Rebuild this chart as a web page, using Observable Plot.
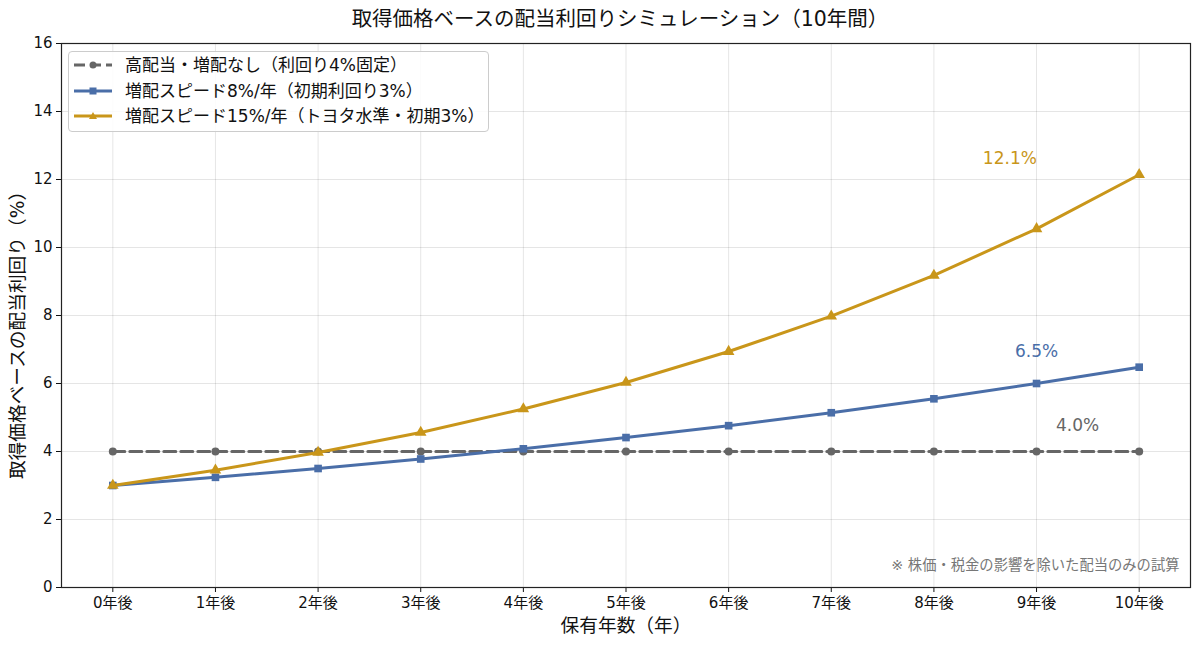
<!DOCTYPE html>
<html><head><meta charset="utf-8">
<script src="https://cdn.jsdelivr.net/npm/d3@7"></script>
<script src="https://cdn.jsdelivr.net/npm/@observablehq/plot@0.6"></script>
<style>
body{margin:0;background:#fff;font-family:"DejaVu Sans","Noto Sans CJK JP",sans-serif;}
#wrap{position:relative;width:1200px;height:645px;}
#title{position:absolute;top:7px;left:20px;width:1200px;text-align:center;font-size:20.5px;line-height:24px;font-family:"DejaVu Sans","Noto Sans CJK JP",sans-serif;color:#111;}
#legend{position:absolute;left:68px;top:51px;width:421px;height:81px;border:1px solid #ccc;border-radius:4px;background:rgba(255,255,255,0.85);font-family:"DejaVu Sans","Noto Sans CJK JP",sans-serif;font-size:17px;color:#111;box-sizing:border-box;}
.row{position:absolute;left:4px;height:24px;display:flex;align-items:center;}
.row span{margin-left:12px;white-space:nowrap;line-height:24px;}
</style></head>
<body><div id="wrap"><div id="chart"></div><div id="title"></div><div id="legend"></div></div>
<script>
const years = [0,1,2,3,4,5,6,7,8,9,10];
const yearLabels = ["0年後","1年後","2年後","3年後","4年後","5年後","6年後","7年後","8年後","9年後","10年後"];
const fixedYield = [4.0,4.0,4.0,4.0,4.0,4.0,4.0,4.0,4.0,4.0,4.0];
const growth8 = [3.00,3.24,3.50,3.78,4.08,4.41,4.76,5.14,5.55,6.00,6.48];
const growth15 = [3.00,3.45,3.97,4.56,5.25,6.03,6.94,7.98,9.18,10.55,12.14];
const seriesNames = ["高配当・増配なし（利回り4%固定）","増配スピード8%/年（初期利回り3%）","増配スピード15%/年（トヨタ水準・初期3%）"];
const seriesColors = ["#666666","#4a6ea8","#c9961a"];
const annoText = ["4.0%","6.5%","12.1%"];
const annoX = [9.4,9.0,8.74];
const annoY = [4.76,6.94,12.62];
const yTicks = [0,2,4,6,8,10,12,14,16];
const titleText = "取得価格ベースの配当利回りシミュレーション（10年間）";
const xLabel = "保有年数（年）";
const yLabel = "取得価格ベースの配当利回り（%）";
const note = "※ 株価・税金の影響を除いた配当のみの試算";

document.getElementById("title").textContent = titleText;

const rows = (vals, s) => years.map((x,i)=>({x, y: vals[i], s}));
const d0 = rows(fixedYield,0), d1 = rows(growth8,1), d2 = rows(growth15,2);
const annos = annoText.map((t,i)=>({t, x:annoX[i], y:annoY[i], c:seriesColors[i]}));
const ff = '"DejaVu Sans","Noto Sans CJK JP",sans-serif';

const chart = Plot.plot({
  width:1200, height:645,
  marginLeft:61, marginRight:10, marginTop:43, marginBottom:58,
  style:{fontFamily:ff, fontSize:"15px", color:"#111", background:"#fff"},
  x:{domain:[-0.5,10.5], label:null},
  y:{domain:[0,16], label:null},
  marks:[
    Plot.gridX(years,{stroke:"#000", strokeOpacity:0.1, strokeWidth:1}),
    Plot.gridY(yTicks,{stroke:"#000", strokeOpacity:0.1, strokeWidth:1}),
    Plot.line(d0,{x:"x",y:"y",stroke:seriesColors[0],strokeWidth:3,strokeDasharray:"12,5"}),
    Plot.dot(d0,{x:"x",y:"y",fill:seriesColors[0],r:4,symbol:"circle"}),
    Plot.line(d1,{x:"x",y:"y",stroke:seriesColors[1],strokeWidth:3}),
    Plot.dot(d1,{x:"x",y:"y",fill:seriesColors[1],r:4.3,symbol:"square"}),
    Plot.line(d2,{x:"x",y:"y",stroke:seriesColors[2],strokeWidth:3}),
    Plot.dot(d2,{x:"x",y:"y",fill:seriesColors[2],r:4.3,symbol:"triangle"}),
    Plot.text(annos,{x:"x",y:"y",text:"t",fill:"c",fontSize:17}),
    Plot.text([note],{frameAnchor:"bottom-right",dx:-11,dy:-18,fill:"#777",fontSize:14.3}),
    Plot.axisX({ticks:years, tickFormat:d=>yearLabels[d], tickSize:5, tickPadding:5, fontSize:15, label:null}),
    Plot.axisY({ticks:yTicks, tickSize:5, tickPadding:4, fontSize:15, label:null}),
    Plot.frame({stroke:"#222", strokeWidth:1.2}),
    Plot.text([xLabel],{frameAnchor:"bottom",lineAnchor:"middle",dy:39,fontSize:18.7,fill:"#111"}),
    Plot.text([yLabel],{frameAnchor:"left",dx:-43,dy:15,rotate:-90,textAnchor:"middle",fontSize:18.7,fill:"#111"})
  ]
});
document.getElementById("chart").appendChild(chart);

const lg = document.getElementById("legend");
const symbols = ["circle","square","triangle"];
seriesNames.forEach((n,i)=>{
  const r = document.createElement("div");
  r.className="row"; r.style.top=(1+i*25.5)+"px";
  const c = seriesColors[i];
  let sym = symbols[i]==="circle" ? `<circle cx="20" cy="8" r="3.5" fill="${c}"/>` :
            symbols[i]==="square" ? `<rect x="16.5" y="4.5" width="7" height="7" fill="${c}"/>` :
            `<path d="M20,4 L24,11 L16,11 Z" fill="${c}"/>`;
  const dash = i===0 ? 'stroke-dasharray="11,5"' : '';
  r.innerHTML = `<svg width="40" height="16"><line x1="1" y1="8" x2="39" y2="8" stroke="${c}" stroke-width="3" ${dash}/>${sym}</svg><span>${n}</span>`;
  lg.appendChild(r);
});
</script></body></html>
